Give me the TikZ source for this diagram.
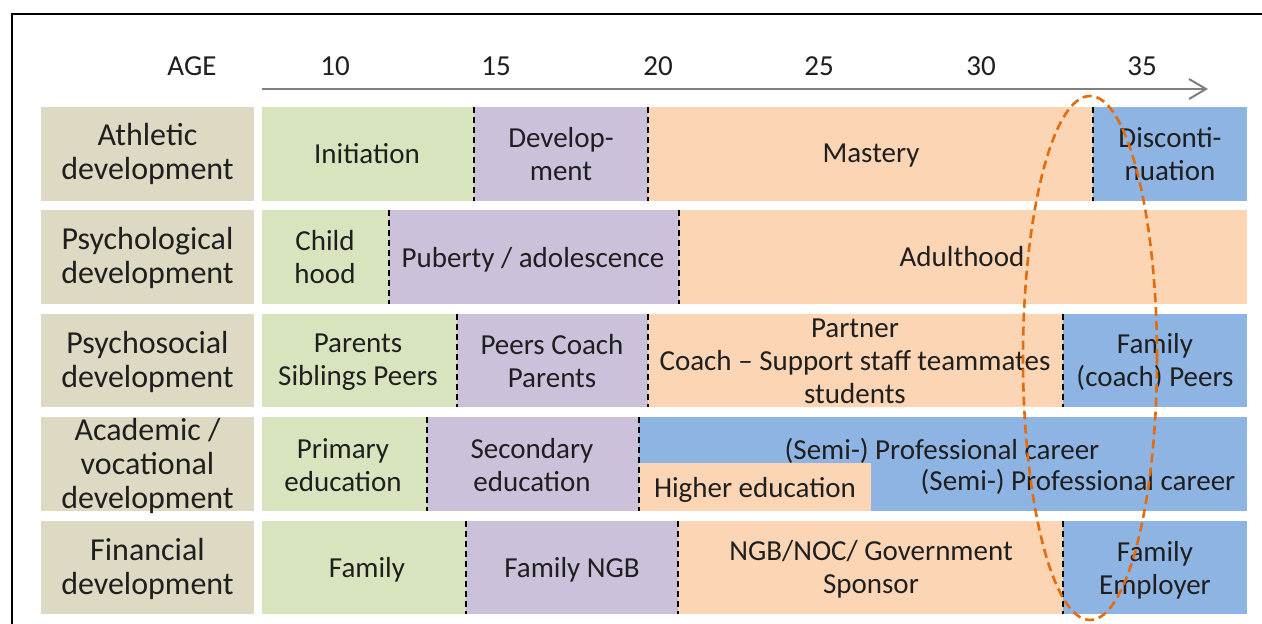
\documentclass[tikz,border=0pt]{standalone}
\usepackage{fontspec}
\setmainfont{Carlito}
\usetikzlibrary{arrows.meta,shapes.geometric}
\definecolor{tanbg}{HTML}{DDD9C3}
\definecolor{greenbg}{HTML}{D7E4BD}
\definecolor{purplebg}{HTML}{CCC1DA}
\definecolor{peachbg}{HTML}{FCD5B5}
\definecolor{bluebg}{HTML}{8EB4E3}
\definecolor{ovalc}{HTML}{E46C0A}
\definecolor{txt}{HTML}{1F1F1F}
\definecolor{axisc}{HTML}{7F7F7F}
\begin{document}
\begin{tikzpicture}[x=1pt,y=-1pt,
  every node/.style={font=\fontsize{29}{33}\selectfont, text=txt, align=center, inner sep=0pt},
  rowlabel/.style={font=\fontsize{32}{34}\selectfont},
  sepline/.style={draw=black, line width=1.6pt, dash pattern=on 6pt off 4pt},
  axisline/.style={draw=axisc, line width=2pt, -{Straight Barb[length=17pt,width=20pt,line width=2pt]}},
  oval/.style={draw=ovalc, line width=2.6pt, dash pattern=on 9pt off 5pt, ellipse, minimum width=134pt, minimum height=524pt}]
\useasboundingbox (0,0) rectangle (1262,624);
\fill[white] (0,0) rectangle (1262,624);
% frame
\draw[line width=2pt] (11.5,624) -- (11.5,13.5) -- (1262,13.5);
% axis
\node (age) at (192,66) {AGE};
\node (t10) at (335,66) {10};
\node (t15) at (496,66) {15};
\node (t20) at (658,66) {20};
\node (t25) at (819,66) {25};
\node (t30) at (981,66) {30};
\node (t35) at (1142,66) {35};
\coordinate (axs) at (262,89);
\coordinate (axe) at (1208,89);
\draw[axisline] (axs) -- (axe);
% row labels
\fill[tanbg] (41,107) rectangle (254,201);
\fill[tanbg] (41,210) rectangle (254,304);
\fill[tanbg] (41,314) rectangle (254,407);
\fill[tanbg] (41,417) rectangle (254,511);
\fill[tanbg] (41,521) rectangle (254,614);
\node[rowlabel] (lab1) at (147.5,154) {Athletic\\development};
\node[rowlabel] (lab2) at (147.5,258) {Psychological\\development};
\node[rowlabel] (lab3) at (147.5,362) {Psychosocial\\development};
\node[rowlabel] (lab4) at (147.5,466) {Academic /\\vocational\\development};
\node[rowlabel] (lab5) at (147.5,569) {Financial\\development};
% row 1
\fill[greenbg] (262,107) rectangle (474,201);
\fill[purplebg] (474,107) rectangle (648,201);
\fill[peachbg] (648,107) rectangle (1093,201);
\fill[bluebg] (1093,107) rectangle (1247,201);
\draw[sepline] (474,107) -- (474,201);
\draw[sepline] (648,107) -- (648,201);
\draw[sepline] (1093,107) -- (1093,201);
\node (a1) at (367,154) {Initiation};
\node (a2) at (561,154) {Develop-\\ment};
\node (a3) at (871,156) {Mastery};
\node (a4) at (1170,154) {Disconti-\\nuation};
% row 2
\fill[greenbg] (262,210) rectangle (389,304);
\fill[purplebg] (389,210) rectangle (679,304);
\fill[peachbg] (679,210) rectangle (1247,304);
\draw[sepline] (389,210) -- (389,304);
\draw[sepline] (679,210) -- (679,304);
\node (b1) at (325,257) {Child\\hood};
\node (b2) at (533,260) {Puberty / adolescence};
\node (b3) at (962,257) {Adulthood};
% row 3
\fill[greenbg] (262,314) rectangle (457,407);
\fill[purplebg] (457,314) rectangle (648,407);
\fill[peachbg] (648,314) rectangle (1063,407);
\fill[bluebg] (1063,314) rectangle (1247,407);
\draw[sepline] (457,314) -- (457,407);
\draw[sepline] (648,314) -- (648,407);
\draw[sepline] (1063,314) -- (1063,407);
\node (c1) at (358,362) {Parents\\Siblings Peers};
\node (c2) at (552,361) {Peers Coach\\Parents};
\node (c3) at (855,361) {Partner\\Coach -- Support staff teammates\\students};
\node (c4) at (1155,362) {Family\\(coach) Peers};
% row 4
\fill[greenbg] (262,417) rectangle (427,511);
\fill[purplebg] (427,417) rectangle (639,511);
\fill[bluebg] (639,417) rectangle (1247,511);
\fill[peachbg] (639,463) rectangle (871,511);
\draw[sepline] (427,417) -- (427,511);
\draw[sepline] (639,417) -- (639,511);
\node (d1) at (343,465) {Primary\\education};
\node (d2) at (532,465) {Secondary\\education};
\node (d3) at (942,451) {(Semi-) Professional career};
\node (d4) at (755,490) {Higher education};
\node (d5) at (1078,482) {(Semi-) Professional career};
% row 5
\fill[greenbg] (262,521) rectangle (466,614);
\fill[purplebg] (466,521) rectangle (678,614);
\fill[peachbg] (678,521) rectangle (1063,614);
\fill[bluebg] (1063,521) rectangle (1247,614);
\draw[sepline] (466,521) -- (466,614);
\draw[sepline] (678,521) -- (678,614);
\draw[sepline] (1063,521) -- (1063,614);
\node (e1) at (367,570) {Family};
\node (e2) at (572,570) {Family NGB};
\node (e3) at (871,569) {NGB/NOC/ Government\\Sponsor};
\node (e4) at (1155,570) {Family\\Employer};
% highlight oval
\node[oval] (focus) at (1090,358) {};
\end{tikzpicture}
\end{document}
